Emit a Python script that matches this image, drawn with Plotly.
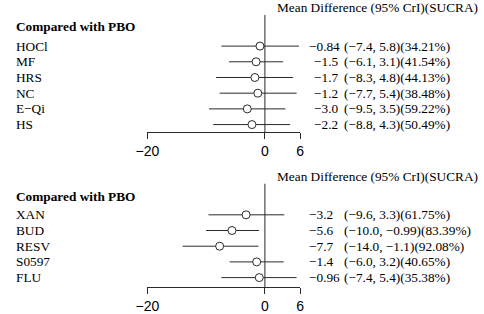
import plotly.graph_objects as go

# ---------------- data ----------------
top_labels = ["HOCl", "MF", "HRS", "NC", "E\u2212Qi", "HS"]
top_md = [-0.84, -1.5, -1.7, -1.2, -3.0, -2.2]
top_lo = [-7.4, -6.1, -8.3, -7.7, -9.5, -8.8]
top_hi = [5.8, 3.1, 4.8, 5.4, 3.5, 4.3]
top_sucra = ["34.21", "41.54", "44.13", "38.48", "59.22", "50.49"]

bot_labels = ["XAN", "BUD", "RESV", "S0597", "FLU"]
bot_md = [-3.2, -5.6, -7.7, -1.4, -0.96]
bot_lo = [-9.6, -10.0, -14.0, -6.0, -7.4]
bot_hi = [3.3, -0.99, -1.1, 3.2, 5.4]
bot_sucra = ["61.75", "83.39", "92.08", "40.65", "35.38"]

tick_vals = [-20, 0, 6]
tick_text = ["\u221220", "0", "6"]
header_text = "Mean Difference (95% CrI)(SUCRA)"
group_text = "Compared with PBO"

# ---------------- layout helpers ----------------
W, H = 484, 314
SERIF = "Liberation Serif, Times New Roman, serif"
SANS = "Liberation Sans Narrow, Liberation Sans, Arial, sans-serif"
FS = 13.3
LC = "#2a2a2a"


def PX(x):
    return x / W


def PY(y):
    return 1 - y / H


def fmt(v):
    return str(v).replace("-", "\u2212")


fig = go.Figure()
annotations = []

panels = [
    dict(labels=top_labels, md=top_md, lo=top_lo, hi=top_hi, sucra=top_sucra,
         xa="x", ya="y", top=15, bottom=135, header_y=8, group_y=27,
         est_x=[305, 310, 310, 310, 310, 310]),
    dict(labels=bot_labels, md=bot_md, lo=bot_lo, hi=bot_hi, sucra=bot_sucra,
         xa="x2", ya="y2", top=187, bottom=293, header_y=180, group_y=200,
         est_x=[305] * 5),
]

ROW_PX = 16.0
FIRST_OFFSET = 32.0  # px from domain top to first row

for p in panels:
    n = len(p["labels"])
    rows = list(range(n))
    rng_top = -FIRST_OFFSET / ROW_PX
    rng_bot = rng_top + (p["bottom"] - p["top"]) / ROW_PX
    p["range"] = [rng_bot, rng_top]

    # reference line at 0
    fig.add_trace(go.Scatter(x=[0, 0], y=[rng_bot, rng_top], mode="lines",
                             line=dict(color=LC, width=1), xaxis=p["xa"], yaxis=p["ya"],
                             hoverinfo="skip", showlegend=False))
    # credible-interval lines
    xs, ys = [], []
    for i in rows:
        xs += [p["lo"][i], p["hi"][i], None]
        ys += [i, i, None]
    fig.add_trace(go.Scatter(x=xs, y=ys, mode="lines", line=dict(color=LC, width=1),
                             xaxis=p["xa"], yaxis=p["ya"], showlegend=False))
    # point estimates
    fig.add_trace(go.Scatter(x=p["md"], y=rows, mode="markers",
                             marker=dict(symbol="circle", size=8, color="white",
                                         line=dict(color=LC, width=1)),
                             xaxis=p["xa"], yaxis=p["ya"], showlegend=False))

    yref = p["ya"]
    for i in rows:
        annotations.append(dict(x=PX(2), y=i, xref="paper", yref=yref, text=p["labels"][i],
                                xanchor="left", yanchor="middle", showarrow=False,
                                font=dict(family=SERIF, size=FS, color="black")))
        annotations.append(dict(x=PX(p["est_x"][i]), y=i, xref="paper", yref=yref,
                                text=fmt(p["md"][i]), xanchor="left", yanchor="middle",
                                showarrow=False, font=dict(family=SERIF, size=FS, color="black")))
        annotations.append(dict(x=PX(341), y=i, xref="paper", yref=yref,
                                text="(%s, %s)(%s%%)" % (fmt(p["lo"][i]), fmt(p["hi"][i]), p["sucra"][i]),
                                xanchor="left", yanchor="middle",
                                showarrow=False, font=dict(family=SERIF, size=FS, color="black")))
    annotations.append(dict(x=PX(484), y=PY(p["header_y"]), xref="paper", yref="paper",
                            text=header_text, xanchor="right", yanchor="middle", showarrow=False,
                            font=dict(family=SERIF, size=FS, color="black")))
    annotations.append(dict(x=PX(2), y=PY(p["group_y"]), xref="paper", yref="paper",
                            text="<b>%s</b>" % group_text, xanchor="left", yanchor="middle",
                            showarrow=False, font=dict(family=SERIF, size=FS, color="black")))

xdom = [PX(140), PX(298)]
axis_x = dict(domain=xdom, range=[-20, 6], tickvals=tick_vals, ticktext=tick_text,
              showline=True, linecolor=LC, linewidth=1, ticks="outside", ticklen=6,
              tickcolor=LC, tickwidth=1, showgrid=False, zeroline=False,
              tickfont=dict(family=SANS, size=14, color="black"), fixedrange=True)

fig.update_layout(
    width=W, height=H, autosize=False,
    margin=dict(l=0, r=0, t=0, b=0),
    paper_bgcolor="white", plot_bgcolor="white",
    showlegend=False,
    xaxis=dict(axis_x, anchor="y"),
    xaxis2=dict(axis_x, anchor="y2"),
    yaxis=dict(domain=[PY(135), PY(15)], range=panels[0]["range"], visible=False,
               fixedrange=True, anchor="x"),
    yaxis2=dict(domain=[PY(293), PY(187)], range=panels[1]["range"], visible=False,
                fixedrange=True, anchor="x2"),
    annotations=annotations,
)

fig.write_html("out.html",
               post_script="document.body.style.margin='0px';document.body.style.overflow='hidden';",
               config={"displayModeBar": False, "responsive": False})
